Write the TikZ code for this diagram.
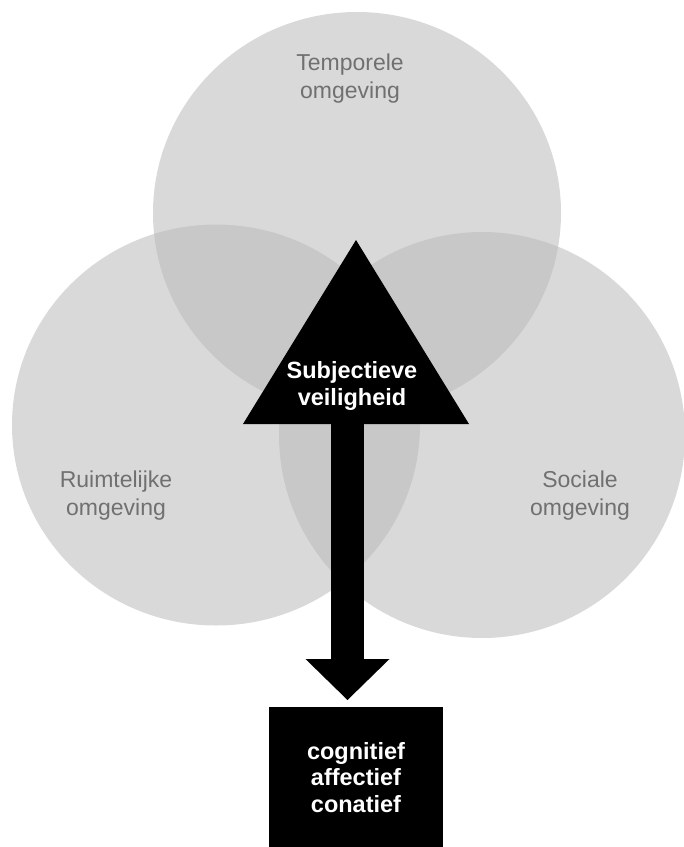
\documentclass[tikz,border=0pt]{standalone}
\usepackage{fontspec}
\setmainfont{Liberation Sans}
\usepackage{tikz}
\usetikzlibrary{shapes.geometric}
\usetikzlibrary{arrows.meta}
\definecolor{zonegray}{RGB}{186,186,186}
\definecolor{labelgray}{RGB}{112,112,112}
\tikzset{
    zone/.style={ellipse, fill=zonegray, fill opacity=.55, minimum width=408pt, minimum height=402pt, inner sep=0pt},
    zonetext/.style={align=center, text=labelgray, font=\fontsize{23}{28}\selectfont},
    boldtext/.style={align=center, text=white, font=\fontsize{23.5}{26.5}\selectfont\bfseries},
    keybox/.style={boldtext, fill=black, minimum width=174pt, minimum height=140pt, anchor=north},
    bigarrow/.style={line width=33pt, -{Triangle[length=41pt, width=84pt, line width=0pt]}, shorten >=7pt}
}
\begin{document}
\begin{tikzpicture}[x=1pt, y=-1pt]
        \useasboundingbox (0,0) rectangle (684,847);

        \node[zone] (tmp) at (357,213) {};
        \node[zone, minimum height=401pt] (rmt) at (216,425) {};
        \node[zone, minimum width=406pt, minimum height=406pt] (soc) at (482,435) {};

        \node[zonetext] (tmp-text) at (350,79) {Temporele\\omgeving};
        \node[zonetext] (rmt-text) at (116,496) {Ruimtelijke\\omgeving};
        \node[zonetext] (soc-text) at (580,496) {Sociale\\omgeving};

        \fill (243,424) coordinate (tri-left) -- (356,240) coordinate (tri-top) -- (469,424) coordinate (tri-right) -- cycle;
        \node[boldtext] (subj) at (352,386) {Subjectieve\\veiligheid};

        \node[keybox] (kind) at (356,707) {cognitief\\affectief\\conatief};

        \coordinate (shaft-top) at (347.5,420);
        \draw[bigarrow] (shaft-top) -- (shaft-top |- kind.north);

    \end{tikzpicture}
\end{document}
